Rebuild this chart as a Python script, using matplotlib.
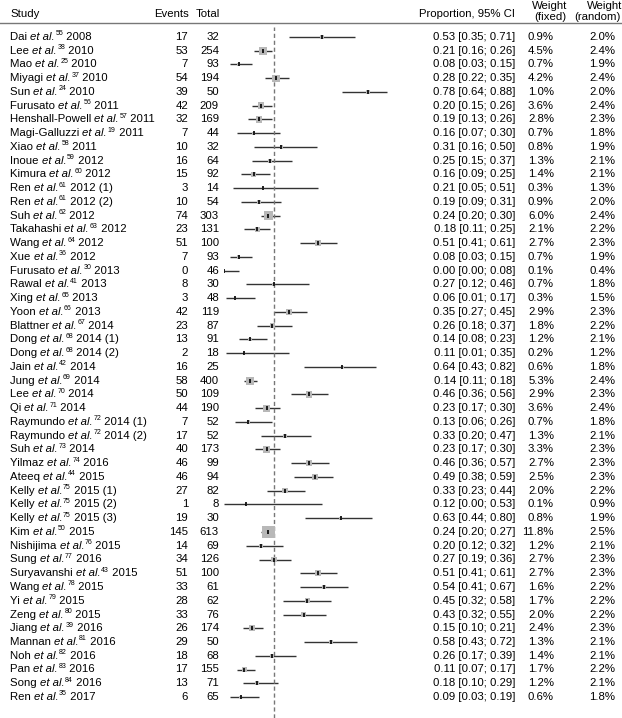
import numpy as np
import matplotlib
matplotlib.use("Agg")
import matplotlib.pyplot as plt
import matplotlib.transforms as mtransforms

plt.rcParams['font.family'] = ['Liberation Sans', 'DejaVu Sans']

# study data
names = ["Dai", "Lee", "Mao", "Miyagi", "Sun", "Furusato", "Henshall-Powell", "Magi-Galluzzi",
         "Xiao", "Inoue", "Kimura", "Ren", "Ren", "Suh", "Takahashi", "Wang", "Xue", "Furusato",
         "Rawal", "Xing", "Yoon", "Blattner", "Dong", "Dong", "Jain", "Jung", "Lee", "Qi",
         "Raymundo", "Raymundo", "Suh", "Yilmaz", "Ateeq", "Kelly", "Kelly", "Kelly", "Kim",
         "Nishijima", "Sung", "Suryavanshi", "Wang", "Yi", "Zeng", "Jiang", "Mannan", "Noh",
         "Pan", "Song", "Ren"]
refs = [55, 38, 25, 37, 24, 56, 57, 19, 58, 59, 60, 61, 61, 62, 63, 64, 36, 30, 41, 65, 66, 67,
        68, 68, 42, 69, 70, 71, 72, 72, 73, 74, 44, 75, 75, 75, 50, 76, 77, 43, 78, 79, 80, 39,
        81, 82, 83, 84, 35]
years = ["2008", "2010", "2010", "2010", "2010", "2011", "2011", "2011", "2011", "2012", "2012",
         "2012 (1)", "2012 (2)", "2012", "2012", "2012", "2012", "2013", "2013", "2013", "2013",
         "2014", "2014 (1)", "2014 (2)", "2014", "2014", "2014", "2014", "2014 (1)", "2014 (2)",
         "2014", "2016", "2015", "2015 (1)", "2015 (2)", "2015 (3)", "2015", "2015", "2016",
         "2015", "2015", "2015", "2015", "2016", "2016", "2016", "2016", "2016", "2017"]
events = [17, 53, 7, 54, 39, 42, 32, 7, 10, 16, 15, 3, 10, 74, 23, 51, 7, 0, 8, 3, 42, 23, 13, 2,
          16, 58, 50, 44, 7, 17, 40, 46, 46, 27, 1, 19, 145, 14, 34, 51, 33, 28, 33, 26, 29, 18,
          17, 13, 6]
totals = [32, 254, 93, 194, 50, 209, 169, 44, 32, 64, 92, 14, 54, 303, 131, 100, 93, 46, 30, 48,
          119, 87, 91, 18, 25, 400, 109, 190, 52, 52, 173, 99, 94, 82, 8, 30, 613, 69, 126, 100,
          61, 62, 76, 174, 50, 68, 155, 71, 65]
prop = [0.53, 0.21, 0.08, 0.28, 0.78, 0.20, 0.19, 0.16, 0.31, 0.25, 0.16, 0.21, 0.19, 0.24, 0.18,
        0.51, 0.08, 0.00, 0.27, 0.06, 0.35, 0.26, 0.14, 0.11, 0.64, 0.14, 0.46, 0.23, 0.13, 0.33,
        0.23, 0.46, 0.49, 0.33, 0.12, 0.63, 0.24, 0.20, 0.27, 0.51, 0.54, 0.45, 0.43, 0.15, 0.58,
        0.26, 0.11, 0.18, 0.09]
ci_lo = [0.35, 0.16, 0.03, 0.22, 0.64, 0.15, 0.13, 0.07, 0.16, 0.15, 0.09, 0.05, 0.09, 0.20, 0.11,
         0.41, 0.03, 0.00, 0.12, 0.01, 0.27, 0.18, 0.08, 0.01, 0.43, 0.11, 0.36, 0.17, 0.06, 0.20,
         0.17, 0.36, 0.38, 0.23, 0.00, 0.44, 0.20, 0.12, 0.19, 0.41, 0.41, 0.32, 0.32, 0.10, 0.43,
         0.17, 0.07, 0.10, 0.03]
ci_hi = [0.71, 0.26, 0.15, 0.35, 0.88, 0.26, 0.26, 0.30, 0.50, 0.37, 0.25, 0.51, 0.31, 0.30, 0.25,
         0.61, 0.15, 0.08, 0.46, 0.17, 0.45, 0.37, 0.23, 0.35, 0.82, 0.18, 0.56, 0.30, 0.26, 0.47,
         0.30, 0.57, 0.59, 0.44, 0.53, 0.80, 0.27, 0.32, 0.36, 0.61, 0.67, 0.58, 0.55, 0.21, 0.72,
         0.39, 0.17, 0.29, 0.19]
w_fixed = [0.9, 4.5, 0.7, 4.2, 1.0, 3.6, 2.8, 0.7, 0.8, 1.3, 1.4, 0.3, 0.9, 6.0, 2.1, 2.7, 0.7,
           0.1, 0.7, 0.3, 2.9, 1.8, 1.2, 0.2, 0.6, 5.3, 2.9, 3.6, 0.7, 1.3, 3.3, 2.7, 2.5, 2.0,
           0.1, 0.8, 11.8, 1.2, 2.7, 2.7, 1.6, 1.7, 2.0, 2.4, 1.3, 1.4, 1.7, 1.2, 0.6]
w_random = [2.0, 2.4, 1.9, 2.4, 2.0, 2.4, 2.3, 1.8, 1.9, 2.1, 2.1, 1.3, 2.0, 2.4, 2.2, 2.3, 1.9,
            0.4, 1.8, 1.5, 2.3, 2.2, 2.1, 1.2, 1.8, 2.4, 2.3, 2.4, 1.8, 2.1, 2.3, 2.3, 2.3, 2.2,
            0.9, 1.9, 2.5, 2.1, 2.3, 2.3, 2.2, 2.2, 2.2, 2.3, 2.1, 2.1, 2.2, 2.1, 1.8]
pooled = 0.27

W, H = 622, 718
n = len(names)
row0, step = 37, 13.75

fig = plt.figure(figsize=(W / 100, H / 100), dpi=100)
ax = fig.add_axes([224 / W, 0, 185 / W, (H - 27) / H])
ax.set_xlim(0, 1)
ax.set_ylim((H - row0) / step, (27 - row0) / step)
ax.axis('off')

y = np.arange(n)
ax.hlines(y, ci_lo, ci_hi, color='#333333', lw=1)
ax.scatter(prop, y, marker='s', s=np.array(w_fixed) / 11.8 * 80, color='#b8b8b8', zorder=3, lw=0)
ax.scatter(prop, y, marker='|', s=10, color='black', lw=1.2, zorder=4)
ax.axvline(pooled, color='#777777', lw=1, ls=(0, (3, 2)))

tr = mtransforms.blended_transform_factory(fig.transFigure, ax.transData)
fs = 8.2
for i in range(n):
    # study label: name, italic "et al.", superscript ref, year
    t1 = ax.text(10 / W, i, names[i] + " ", transform=tr, ha='left', va='center', fontsize=fs)
    t2 = ax.annotate("et al.", xy=(1, 0), xycoords=t1, va='bottom', fontsize=fs, style='italic')
    t3 = ax.annotate(str(refs[i]), xy=(1, 0), xycoords=t2, va='bottom', fontsize=5,
                     xytext=(0.4, 3.3), textcoords='offset points')
    ax.annotate(" " + years[i], xy=(1, 0), xycoords=(t3, t2), va='bottom', fontsize=fs)

    ax.text(188 / W, i, str(events[i]), transform=tr, ha='right', va='center', fontsize=fs)
    ax.text(219 / W, i, str(totals[i]), transform=tr, ha='right', va='center', fontsize=fs)
    ci = f"{prop[i]:.2f} [{ci_lo[i]:.2f}; {ci_hi[i]:.2f}]"
    ax.text(515 / W, i, ci, transform=tr, ha='right', va='center', fontsize=fs)
    ax.text(554 / W, i, f"{w_fixed[i]:.1f}%", transform=tr, ha='right', va='center', fontsize=fs)
    ax.text(615 / W, i, f"{w_random[i]:.1f}%", transform=tr, ha='right', va='center', fontsize=fs)

# header
def hdr(x, yp, s, ha):
    fig.text(x / W, 1 - yp / H, s, ha=ha, va='center', fontsize=fs)

hdr(10, 14, "Study", 'left')
hdr(189, 14, "Events", 'right')
hdr(196, 14, "Total", 'left')
hdr(515, 14, "Proportion, 95% CI", 'right')
hdr(550, 6, "Weight", 'center')
hdr(550, 17, "(fixed)", 'center')
hdr(605, 6, "Weight", 'center')
hdr(621, 17, "(random)", 'right')
fig.add_artist(plt.Line2D([0, 1], [1 - 23 / H, 1 - 23 / H], color='#777777', lw=1))

fig.savefig("out.png", dpi=100)
